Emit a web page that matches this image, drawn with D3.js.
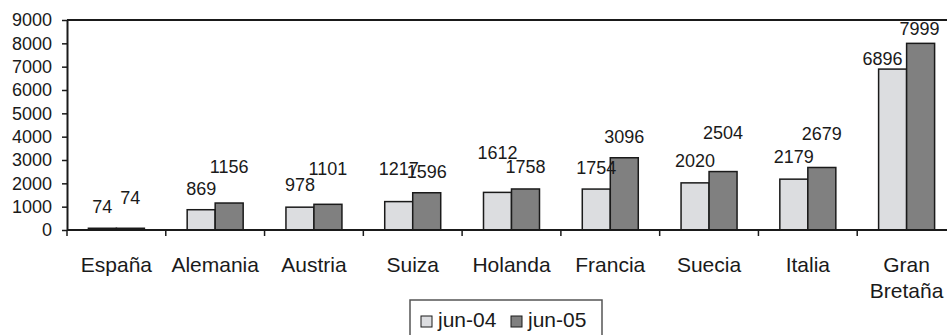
<!DOCTYPE html>
<html>
<head>
<meta charset="utf-8">
<script src="https://cdn.jsdelivr.net/npm/d3@7"></script>
<style>
  html, body { margin: 0; padding: 0; background: #fff; }
  svg { display: block; font-family: "Liberation Sans", Arial, sans-serif; }
</style>
</head>
<body>
<svg id="chart" width="947" height="335"></svg>
<script>
// Paises y valores de cada serie
const categories = ["España", "Alemania", "Austria", "Suiza", "Holanda", "Francia", "Suecia", "Italia", "Gran Bretaña"];
const seriesNames = ["jun-04", "jun-05"];
const valuesJun04 = [74, 869, 978, 1217, 1612, 1754, 2020, 2179, 6896];
const valuesJun05 = [74, 1156, 1101, 1596, 1758, 3096, 2504, 2679, 7999];
const yTicks = [0, 1000, 2000, 3000, 4000, 5000, 6000, 7000, 8000, 9000];

// Altura de cada etiqueta sobre su barra (px) y desplazamiento horizontal
const labelLift04 = [15, 15, 16, 27, 33, 15, 16, 16, 4];
const labelLift05 = [24, 30, 29, 15, 16, 15, 33, 27, 8];
const labelShift04 = [0, 0, 0, 0, 0, 0, 0, 0, -10];
const labelShift05 = [0, 0, 0, 0, 0, 0, 0, 0, -1];

const fills = ["#dcdde0", "#808080"];
const ink = "#1a1a1a";

const svg = d3.select("#chart");
const plot = { left: 67, right: 956, top: 20, bottom: 230 };

const x = d3.scaleBand().domain(categories).range([plot.left, plot.right]).paddingInner(0).paddingOuter(0);
const xs = d3.scaleBand().domain(seriesNames).range([0, x.bandwidth()]).paddingInner(0).paddingOuter(0.764);
const y = d3.scaleLinear().domain([0, 9000]).range([plot.bottom, plot.top]);

const rows = categories.map((c, i) => ({
  cat: c,
  items: [
    { s: seriesNames[0], v: valuesJun04[i], lift: labelLift04[i], dx: labelShift04[i], k: 0 },
    { s: seriesNames[1], v: valuesJun05[i], lift: labelLift05[i], dx: labelShift05[i], k: 1 }
  ]
}));

// Marco superior y derecho
svg.append("line").attr("x1", plot.left).attr("x2", plot.right).attr("y1", plot.top).attr("y2", plot.top)
  .attr("stroke", ink).attr("stroke-width", 2);
svg.append("line").attr("x1", plot.right).attr("x2", plot.right).attr("y1", plot.top).attr("y2", plot.bottom)
  .attr("stroke", ink).attr("stroke-width", 2);

// Barras
const groups = svg.append("g").selectAll("g").data(rows).join("g")
  .attr("transform", d => `translate(${x(d.cat)},0)`);

groups.selectAll("rect").data(d => d.items).join("rect")
  .attr("x", d => xs(d.s))
  .attr("y", d => y(d.v))
  .attr("width", xs.bandwidth())
  .attr("height", d => y(0) - y(d.v))
  .attr("fill", d => fills[d.k])
  .attr("stroke", ink)
  .attr("stroke-width", 1.5);

// Etiquetas de valor
groups.selectAll("text.val").data(d => d.items).join("text")
  .attr("class", "val")
  .attr("x", d => xs(d.s) + xs.bandwidth() / 2 + d.dx)
  .attr("y", d => y(d.v) - d.lift)
  .attr("text-anchor", "middle")
  .attr("font-size", 18)
  .attr("fill", ink)
  .text(d => d.v);

// Eje Y
const yAxis = svg.append("g").attr("transform", `translate(${plot.left},0)`)
  .call(d3.axisLeft(y).tickValues(yTicks).tickSize(5).tickSizeOuter(0).tickPadding(10).tickFormat(d3.format("d")));
yAxis.select(".domain").attr("stroke", ink).attr("stroke-width", 2);
yAxis.selectAll(".tick line").attr("stroke", ink).attr("stroke-width", 1.5);
yAxis.selectAll(".tick text").attr("font-size", 18).attr("fill", ink)
  .attr("font-family", "Liberation Sans, Arial, sans-serif");

// Eje X: linea base, marcas entre categorias y nombres
svg.append("line").attr("x1", plot.left).attr("x2", plot.right).attr("y1", y(0)).attr("y2", y(0))
  .attr("stroke", ink).attr("stroke-width", 2);
const bounds = categories.map(c => x(c)).concat([plot.right]);
svg.append("g").selectAll("line").data(bounds).join("line")
  .attr("x1", d => d).attr("x2", d => d)
  .attr("y1", y(0)).attr("y2", y(0) + 6)
  .attr("stroke", ink).attr("stroke-width", 1.5);

const catLabels = svg.append("g").selectAll("text").data(categories).join("text")
  .attr("x", d => x(d) + x.bandwidth() / 2)
  .attr("y", 272)
  .attr("text-anchor", "middle")
  .attr("font-size", 21)
  .attr("fill", ink)
  .text(d => d);

// Partir en lineas los nombres que no caben en su categoria
catLabels.each(function (d) {
  const t = d3.select(this);
  if (this.getComputedTextLength() > x.step() - 4 && d.includes(" ")) {
    const words = d.split(" ");
    const cx = +t.attr("x");
    t.text(null);
    words.forEach((w, i) => {
      t.append("tspan").attr("x", cx).attr("dy", i === 0 ? 0 : 26).text(w);
    });
  }
});

// Leyenda
const legend = svg.append("g").attr("transform", "translate(410,300)");
legend.append("rect").attr("x", 0).attr("y", 0).attr("width", 192).attr("height", 44)
  .attr("fill", "#fff").attr("stroke", "#555").attr("stroke-width", 1.5);
const legendX = [11, 101];
seriesNames.forEach((s, i) => {
  legend.append("rect").attr("x", legendX[i]).attr("y", 16).attr("width", 11).attr("height", 11)
    .attr("fill", fills[i]).attr("stroke", ink).attr("stroke-width", 1);
  legend.append("text").attr("x", legendX[i] + 17).attr("y", 27)
    .attr("font-size", 21).attr("fill", ink).text(s);
});
</script>
</body>
</html>
